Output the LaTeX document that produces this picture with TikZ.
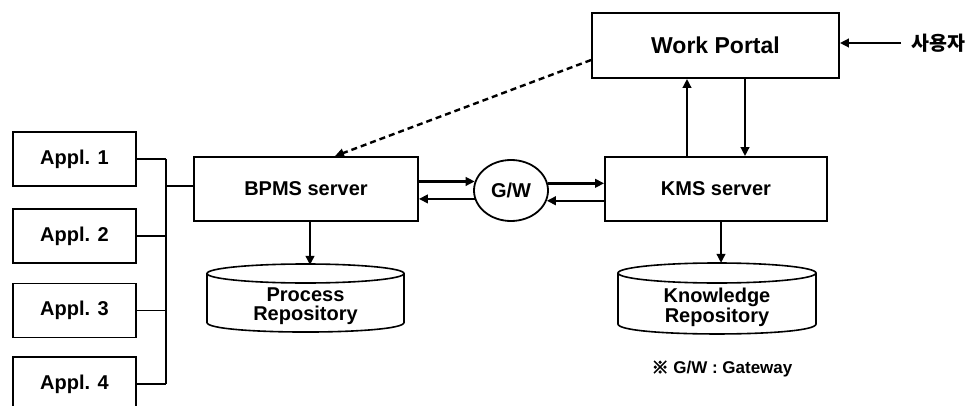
\documentclass[tikz,border=0pt]{standalone}
\usepackage{fontspec}
\setmainfont{Liberation Sans}
\newfontfamily\krfont{Noto Sans CJK KR}
\newfontfamily\krmark[FakeBold=4]{Noto Sans CJK KR}
\usetikzlibrary{arrows.meta,shapes.geometric,calc}

\begin{document}
\begin{tikzpicture}[x=1pt,y=-1pt,
  lbl/.style={font=\bfseries\fontsize{20}{22}\selectfont},
  box/.style={draw, line width=1.8pt, rectangle, inner sep=0pt, lbl},
  applbox/.style={box, minimum width=123pt, minimum height=54pt},
  srvbox/.style={box, minimum height=64pt},
  arr/.style={line width=2.4pt, -{Triangle[length=9pt,width=8.5pt]}},
  dasharr/.style={arr, dash pattern=on 6pt off 4pt},
  busline/.style={line width=1.6pt},
  cyl/.style={draw, line width=1.6pt, fill=white},
  repotext/.style={lbl, align=center, font=\bfseries\fontsize{20}{18.5}\selectfont}
]
\clip (0,0) rectangle (973,406);
\fill[white] (0,0) rectangle (973,406);

% application boxes and their bus
\node[applbox] (a1) at (74.5,159) {Appl. 1};
\node[applbox] (a2) at (74.5,236) {Appl. 2};
\node[applbox] (a3) at (74.5,310.5) {Appl. 3};
\node[applbox] (a4) at (74.5,384) {Appl. 4};
\coordinate (bustop) at (166,159);
\coordinate (busbot) at (166,384);
\coordinate (busjoin) at (166,186);

% servers and portal
\node[srvbox, minimum width=224pt] (bpms) at (306,189) {BPMS server};
\node[srvbox, minimum width=222pt] (kms) at (716,189) {KMS server};
\node[box, minimum width=247pt, minimum height=65pt,
      font=\bfseries\fontsize{23}{25}\selectfont] (wp) at (715.5,45.5) {Work Portal};
\node[draw, ellipse, line width=1.8pt, inner sep=0pt, minimum width=74pt,
      minimum height=61pt, lbl] (gw) at (511,190.5) {G/W};
\node[font=\krfont\bfseries\fontsize{19.5}{21}\selectfont, anchor=west, inner sep=0pt]
      (user) at (911,43) {사용자};

\draw[busline] (a1.east) -- (bustop);
\draw[busline] (a2.east) -- (a2.east -| bustop);
\draw[busline] (a3.east) -- (a3.east -| bustop);
\draw[busline] (a4.east) -- (busbot);
\draw[busline] (bustop) -- (busbot);
\draw[busline] (busjoin) -- (busjoin -| bpms.west);

% repositories
\draw[cyl] (207,273.5) -- (207,322.5)
  .. controls (207,335.2) and (404,335.2) .. (404,322.5) -- (404,273.5);
\draw[cyl] (305.5,273.5) ellipse [x radius=98.5, y radius=9.5];
\node[repotext] (prep) at (305.5,306) {Process\\Repository};

\draw[cyl] (618,273) -- (618,324)
  .. controls (618,337.3) and (816,337.3) .. (816,324) -- (816,273);
\draw[cyl] (717,273) ellipse [x radius=99, y radius=10];
\node[repotext] (krep) at (717,307) {Knowledge\\Repository};

% connectors
\draw[arr] (gw.166.5 -| bpms.east) -- (gw.166.5);
\draw[arr] (gw.193.5) -- (gw.193.5 -| bpms.east);
\draw[arr] (gw.11.8) -- (gw.11.8 -| kms.west);
\draw[arr] (gw.-16.8 -| kms.west) -- (gw.-16.8);

\draw[arr] ([xshift=4pt]bpms.south) -- ++(0,43);
\draw[arr] ([xshift=5pt]kms.south) -- ++(0,41);

\draw[arr] ([xshift=-29pt]kms.north) -- ([xshift=-29pt]kms.north |- wp.south);
\draw[arr] ([xshift=29pt]kms.north |- wp.south) -- ([xshift=29pt]kms.north);

\draw[arr] ([xshift=-10pt]user.west) -- (user.west -| wp.east);
\draw[dasharr] ([yshift=-14.5pt]wp.west) -- ([xshift=29pt]bpms.north);

% footnote
\node[font=\bfseries\fontsize{17}{19}\selectfont, inner sep=0pt] (note) at (722,369)
  {{\krmark ※} G/W : Gateway};
\end{tikzpicture}
\end{document}
